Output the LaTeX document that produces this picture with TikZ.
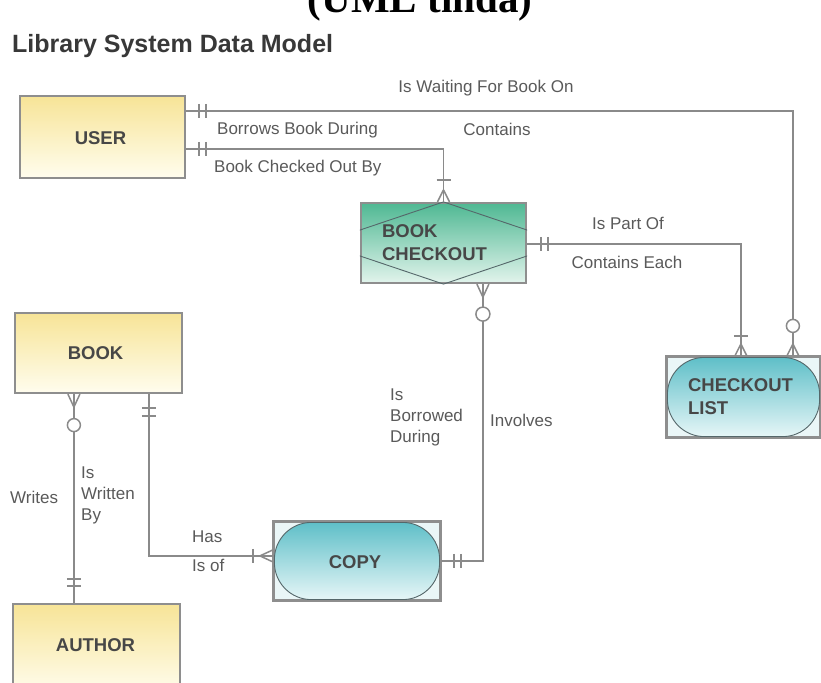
\documentclass[tikz,border=0pt]{standalone}
\usepackage{fontspec}
\setmainfont{Liberation Sans}
\newfontfamily\umlserif{Liberation Serif}
\usetikzlibrary{calc}
\definecolor{linec}{HTML}{8A8A8A}
\definecolor{boxc}{HTML}{8E8E8E}
\definecolor{lblc}{HTML}{5A5A5A}
\definecolor{txtc}{HTML}{474747}
\definecolor{yelT}{HTML}{F7E497}
\definecolor{yelB}{HTML}{FFFDEE}
\definecolor{grnT}{HTML}{4FB893}
\definecolor{grnB}{HTML}{E2F4EC}
\definecolor{tealT}{HTML}{5FBFC8}
\definecolor{tealB}{HTML}{E6F6F7}
\definecolor{tealP}{HTML}{EAF6F7}
\definecolor{stadc}{HTML}{55676A}
\begin{document}
\begin{tikzpicture}[x=1pt,y=-1pt,
  conn/.style={draw=linec, line width=1.7},
  symline/.style={draw=linec, line width=1.5},
  ent/.style={draw=boxc, line width=2.2, inner sep=0, anchor=center},
  yel/.style={ent, top color=yelT, bottom color=yelB},
  grn/.style={ent, top color=grnT, bottom color=grnB},
  tealbox/.style={ent, fill=tealP},
  stad/.style={draw=stadc, line width=0.9, top color=tealT, bottom color=tealB},
  lbl/.style={text=lblc, font=\fontsize{17}{21}\selectfont, inner sep=0, align=left},
  etxt/.style={text=txtc, font=\bfseries\fontsize{18.5}{23}\selectfont, inner sep=0, align=left},
  ring/.style={draw=linec, line width=1.5, fill=white}
]
\useasboundingbox (0,0) rectangle (821,682);
\fill[white] (0,0) rectangle (821,682);

% heading texts
\node[font=\umlserif\bfseries\fontsize{41}{41}\selectfont, anchor=base, inner sep=0] (uml) at (420,13) {(UML tında)};
\node[font=\bfseries\fontsize{25}{28}\selectfont, text=black!78, anchor=base west, inner sep=0] (title) at (12,53) {Library System Data Model};

% entities
\node[yel, minimum width=165, minimum height=82] (user) at (102.5,137) {};
\node[grn, minimum width=165, minimum height=80] (bkco) at (443.5,243) {};
\node[tealbox, minimum width=153, minimum height=80] (cklist) at (743.5,397) {};
\node[yel, minimum width=167, minimum height=80] (book) at (98.5,353) {};
\node[tealbox, minimum width=166, minimum height=78] (copy) at (357,561) {};
\node[yel, minimum width=167, minimum height=90] (author) at (96.5,649) {};

% inner diamond of BOOK CHECKOUT
\begin{scope}
  \clip (bkco.south west) rectangle (bkco.north east);
  \draw[stadc, line width=0.9] ($(bkco.center)+(-122,0)$) -- (bkco.north) -- ($(bkco.center)+(122,0)$) -- (bkco.south) -- cycle;
\end{scope}
% stadiums
\path[stad, rounded corners=37] ($(copy.north west)+(1.5,1.5)$) rectangle ($(copy.south east)+(-1.5,-1.5)$);
\path[stad, rounded corners=37] ($(cklist.north west)+(1.5,1.5)$) rectangle ($(cklist.south east)+(-1.5,-1.5)$);
\draw[boxc, line width=2.2] (copy.north west) rectangle (copy.south east);
\draw[boxc, line width=2.2] (cklist.north west) rectangle (cklist.south east);

% entity texts
\node[etxt] (userT) at ($(user.center)+(-2,1)$) {USER};
\node[etxt] (bookT) at ($(book.center)+(-3,0)$) {BOOK};
\node[etxt] (authorT) at ($(author.center)+(-1,-4)$) {AUTHOR};
\node[etxt] (copyT) at ($(copy.center)+(-2,1)$) {COPY};
\node[etxt, anchor=west] (bkcoT) at ($(bkco.west)+(22,0)$) {BOOK\\CHECKOUT};
\node[etxt, anchor=west] (cklistT) at ($(cklist.west)+(22,0)$) {CHECKOUT\\LIST};

% connector 1: USER -- CHECKOUT LIST (Is Waiting For Book On)
\draw[conn] ($(user.north east)+(0,16)$) coordinate (c1a) -| ($(cklist.north west)+(127,0)$) coordinate (c1b);
\draw[symline] ($(c1a)+(13,-7)$) -- ++(0,14) ($(c1a)+(20,-7)$) -- ++(0,14);
\draw[symline] ($(c1b)+(0,-12)$) -- ++(-6,12) ($(c1b)+(0,-12)$) -- ++(6,12);
\draw[ring] ($(c1b)+(0,-30)$) circle (6.5);

% connector 2: USER -- BOOK CHECKOUT
\draw[conn] ($(user.north east)+(0,54)$) coordinate (c2a) -| (bkco.north) coordinate (c2b);
\draw[symline] ($(c2a)+(13,-7)$) -- ++(0,14) ($(c2a)+(20,-7)$) -- ++(0,14);
\draw[symline] ($(c2b)+(-7,-22)$) -- ++(14,0);
\draw[symline] ($(c2b)+(0,-12)$) -- ++(-6,12) ($(c2b)+(0,-12)$) -- ++(6,12);

% connector 3: BOOK CHECKOUT -- CHECKOUT LIST
\draw[conn] ($(bkco.north east)+(0,42)$) coordinate (c3a) -| ($(cklist.north west)+(75,0)$) coordinate (c3b);
\draw[symline] ($(c3a)+(14,-7)$) -- ++(0,14) ($(c3a)+(21,-7)$) -- ++(0,14);
\draw[symline] ($(c3b)+(-7,-20)$) -- ++(14,0);
\draw[symline] ($(c3b)+(0,-12)$) -- ++(-6,12) ($(c3b)+(0,-12)$) -- ++(6,12);

% connector 4: BOOK CHECKOUT -- COPY
\draw[conn] ($(bkco.south west)+(123,0)$) coordinate (c4a) |- ($(copy.north east)+(0,40)$) coordinate (c4b);
\draw[symline] ($(c4a)+(0,13)$) -- ++(-6,-13) ($(c4a)+(0,13)$) -- ++(6,-13);
\draw[ring] ($(c4a)+(0,30)$) circle (7);
\draw[symline] ($(c4b)+(13,-7)$) -- ++(0,14) ($(c4b)+(20,-7)$) -- ++(0,14);

% connector 5: BOOK -- COPY
\draw[conn] ($(book.south west)+(135,0)$) coordinate (c5a) |- ($(copy.north west)+(0,35)$) coordinate (c5b);
\draw[symline] ($(c5a)+(-7,14)$) -- ++(14,0) ($(c5a)+(-7,22)$) -- ++(14,0);
\draw[symline] ($(c5b)+(-20,-7)$) -- ++(0,14);
\draw[symline] ($(c5b)+(-13,0)$) -- ++(13,-6) ($(c5b)+(-13,0)$) -- ++(13,6);

% connector 6: BOOK -- AUTHOR
\draw[conn] ($(book.south west)+(60,0)$) coordinate (c6a) -- ($(author.north west)+(62,0)$) coordinate (c6b);
\draw[symline] ($(c6a)+(0,13)$) -- ++(-6,-13) ($(c6a)+(0,13)$) -- ++(6,-13);
\draw[ring] ($(c6a)+(0,31)$) circle (6.5);
\draw[symline] ($(c6b)+(-7,-24)$) -- ++(14,0) ($(c6b)+(-7,-17)$) -- ++(14,0);

% labels
\node[lbl] (l1) at (486,88) {Is Waiting For Book On};
\node[lbl, anchor=west] (l2) at (217,130) {Borrows Book During};
\node[lbl] (l3) at (497,129) {Contains};
\node[lbl, anchor=west] (l4) at (214,168) {Book Checked Out By};
\node[lbl] (l5) at (628,223) {Is Part Of};
\node[lbl] (l6) at (627,262) {Contains Each};
\node[lbl, anchor=west] (l7) at (390,417) {Is\\Borrowed\\During};
\node[lbl, anchor=west] (l8) at (490,420) {Involves};
\node[lbl, anchor=west] (l9) at (10,497) {Writes};
\node[lbl, anchor=west] (l10) at (81,495) {Is\\Written\\By};
\node[lbl, anchor=west] (l11) at (192,537) {Has};
\node[lbl, anchor=west] (l12) at (192,565) {Is of};
\end{tikzpicture}
\end{document}
